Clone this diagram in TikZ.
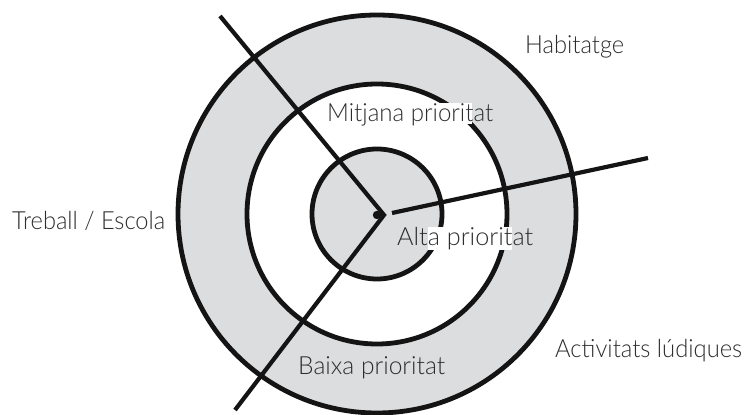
\documentclass[tikz,border=0pt]{standalone}
\usepackage{fontspec}
\setmainfont{Lato}[UprightFont=* Light]
\usepackage{graphicx}
\definecolor{ringgray}{RGB}{220,221,223}
\definecolor{txtgray}{RGB}{45,45,47}
\newcommand{\lab}[2]{\resizebox{#1}{\height}{#2}}
\begin{document}
\begin{tikzpicture}[x=1pt,y=1pt,
  ring/.style={draw=black!92,line width=4.8pt},
  spoke/.style={draw=black!92,line width=4.2pt},
  lbl/.style={anchor=base west,inner sep=0pt,text=txtgray,font=\fontsize{25}{25}\selectfont},
  knock/.style={fill=white,draw=none}]
\useasboundingbox (0,0) rectangle (745,415);
\coordinate (C) at (377,201);
% fills
\fill[ringgray] (C) circle (199);
\fill[white] (C) circle (130);
\fill[ringgray] (C) circle (65);
% rings
\draw[ring] (C) circle (199);
\draw[ring] (C) circle (130);
\draw[ring] (C) circle (65);
% spokes
\coordinate (A) at (220,399);
\coordinate (P) at (384,200);
\coordinate (B) at (235,5);
\coordinate (R0) at (392,202);
\coordinate (R1) at (648,257);
\draw[spoke,line join=miter] (A) -- (P) -- (B);
\draw[spoke] (R0) -- (R1);
\fill[black!92] (377,200) circle (4.2);
% knock-out boxes behind labels
\fill[knock] (327,291) rectangle (472,312);
\fill[knock] (428,165) rectangle (512,188);
% labels
\node[lbl] (treball) at (12,185) {\lab{153pt}{Treball / Escola}};
\node[lbl] (habitatge) at (525,361) {\lab{99pt}{Habitatge}};
\node[lbl] (ludiques) at (555,57) {\lab{187pt}{Activitats lúdiques}};
\node[lbl] (mitjana) at (327,293) {\lab{166pt}{Mitjana prioritat}};
\node[lbl] (alta) at (397,169) {\lab{136pt}{Alta prioritat}};
\node[lbl] (baixa) at (298,40) {\lab{147pt}{Baixa prioritat}};
\end{tikzpicture}
\end{document}
